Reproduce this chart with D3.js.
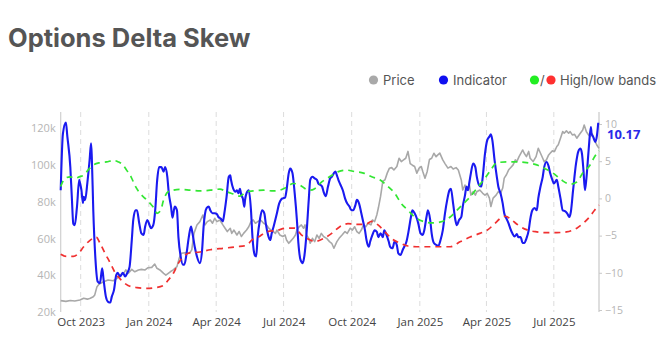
<!DOCTYPE html>
<html><head><meta charset="utf-8">
<script src="https://cdn.jsdelivr.net/npm/d3@7"></script>
<style>
html,body{margin:0;padding:0;background:#fff;}
svg{display:block;}
</style></head>
<body>
<svg id="chart" width="666" height="340"></svg>
<script>
const title = "Options Delta Skew";
const startDate = "2023-09-04";
const endDate = "2025-08-31";
const xTickDates = ["2023-10-01","2024-01-01","2024-04-01","2024-07-01","2024-10-01","2025-01-01","2025-04-01","2025-07-01"];
const leftTicks = [20, 40, 60, 80, 100, 120];
const rightTicks = [-15, -10, -5, 0, 5, 10];
const legendLabels = ["Price", "Indicator", "High/low bands"];
const lastLabel = "10.17";

// days since startDate
const priceDays = [0,7,13,19,26,31,36,40,44,46,49,52,58,64,71,76,80,85,88,91,96,100,105,109,114,118,123,127,130,134,139,142,148,152,157,160,163,170,174,177,180,184,188,192,195,198,202,205,208,211,215,219,222,225,229,231,234,238,241,244,247,251,254,257,260,263,266,270,274,278,281,284,287,290,292,296,300,303,305,308,310,314,317,319,322,325,328,330,332,335,337,340,343,346,349,352,355,359,363,366,369,373,376,380,384,387,391,394,397,400,403,406,409,412,415,419,421,424,427,429,432,435,438,441,444,447,450,454,457,460,463,466,469,472,475,478,481,484,487,489,492,495,498,501,504,507,509,512,516,519,523,527,530,534,537,541,543,546,549,552,554,557,560,562,566,570,573,576,579,581,584,588,591,594,597,599,602,605,607,611,614,616,619,624,626,629,632,634,638,642,645,648,651,653,656,659,661,664,667,670,672,675,678,680,683,686,688,691,694,697,701,705,707,710,713,715,718,721,724,727];
// thousands of USD
const priceValues = [26.2,25.8,26.3,26.0,26.5,27.5,27.0,27.5,28.3,29.3,33.8,35.2,36.5,37.4,37.0,38.3,40.1,41.0,42.9,41.0,43.2,41.9,42.9,43.2,42.9,44.1,44.3,46.1,43.8,42.9,41.0,40.1,41.9,42.9,44.7,49.2,52.0,52.3,52.0,53.8,62.8,67.4,69.2,72.8,67.4,69.2,70.1,68.3,71.0,69.2,70.1,67.4,65.6,63.8,65.6,62.8,64.6,61.9,63.8,61.1,62.8,64.6,66.4,69.2,70.1,68.3,69.2,70.1,68.3,67.4,65.6,64.6,63.8,62.8,64.6,61.9,61.1,61.9,59.2,57.4,58.3,60.1,61.9,64.6,66.4,67.4,65.6,67.4,61.9,60.1,57.4,60.1,58.3,61.9,60.1,62.8,61.1,60.1,58.3,57.4,54.7,58.3,60.1,61.9,63.8,62.8,65.6,64.6,66.4,63.8,62.8,64.6,67.4,66.4,68.3,67.4,70.1,69.2,73.0,76.6,82.9,91.1,92.0,95.6,98.3,98.6,97.3,99.2,103.7,101.9,102.8,103.7,107.4,100.8,99.9,99.2,95.6,98.3,99.2,96.5,92.8,96.5,103.0,103.7,106.4,104.5,105.4,106.5,102.8,100.8,98.3,99.2,97.8,98.6,97.3,91.9,86.4,89.1,86.4,89.1,83.6,85.5,83.6,85.5,86.4,84.6,83.6,84.6,82.0,77.4,82.0,83.6,85.5,84.6,87.5,92.9,94.7,97.4,98.3,100.1,102.8,101.9,104.6,108.2,106.4,104.6,107.4,103.7,101.9,104.6,109.1,106.4,103.7,101.9,102.8,105.5,106.4,107.7,107.4,110.1,111.0,114.6,118.2,117.3,118.6,117.3,118.2,116.4,116.7,114.6,116.9,119.1,121.8,118.1,116.4,115.4,116.9,113.6,110.9,109.1];

const indicatorDays = [0,3,7,9,13,15,17,19,22,25,26,28,30,31,33,36,39,41,42,44,47,50,53,56,58,61,64,67,69,72,75,77,80,84,87,90,93,96,98,101,103,106,109,112,114,117,120,122,125,128,130,133,136,139,141,144,146,149,151,154,157,159,162,165,167,170,173,176,178,181,184,188,191,193,197,200,202,205,208,211,213,216,219,221,224,227,229,230,233,236,238,240,242,244,246,248,249,251,254,257,259,262,264,266,269,272,275,277,280,283,285,288,292,295,298,300,303,305,308,310,313,316,319,321,324,327,329,332,335,337,340,343,346,348,351,353,355,358,361,364,366,369,371,373,375,378,381,384,387,390,392,395,398,400,403,406,408,411,413,416,418,421,424,427,429,432,435,437,440,443,445,448,451,454,456,459,462,464,467,470,473,475,478,481,483,486,489,491,494,496,499,501,504,508,510,513,516,519,522,525,527,530,533,535,538,541,543,546,548,550,552,554,557,560,562,565,568,570,573,576,579,581,583,586,589,591,594,597,599,602,605,607,610,613,616,618,621,624,626,629,632,634,637,640,643,645,648,651,653,656,659,661,664,666,670,672,675,678,681,684,687,689,692,696,699,702,704,706,708,710,713,716,717,719,722,724,726];
const indicatorValues = [1.1,8.7,10.2,8.3,4.2,0.2,-3.4,-3.6,-1.1,2.5,2.1,1.1,-0.6,0.2,-0.2,2.1,5.1,7.4,5.6,-1.6,-8.3,-11.2,-11.4,-9.4,-11.0,-13.2,-13.9,-14.0,-13.2,-12.3,-10.3,-10.0,-10.5,-10.0,-10.5,-10.0,-9.2,-5.6,-2.9,-1.6,-1.6,-3.3,-4.7,-4.9,-3.8,-2.9,-3.6,-4.0,-3.6,-1.1,2.1,4.2,4.2,3.6,4.2,2.9,0.7,-1.1,-2.6,-1.1,-1.6,-5.2,-7.8,-8.9,-8.9,-7.4,-5.2,-3.8,-4.7,-6.5,-7.8,-8.7,-6.9,-3.8,-1.3,-1.1,-1.6,-2.0,-2.0,-2.1,-2.5,-2.7,-3.1,-2.0,0.2,2.9,3.1,2.5,1.3,0.9,1.1,0.7,1.3,0.4,0.0,-1.1,-0.2,0.7,1.1,-1.6,-5.2,-7.6,-7.8,-5.2,-2.9,-1.6,-2.0,-3.4,-4.9,-5.6,-4.7,-3.6,-2.0,-0.7,-0.1,0.0,0.1,1.1,3.4,4.0,3.4,0.7,-2.9,-6.0,-8.3,-8.7,-7.8,-4.7,-0.2,2.5,2.9,2.7,2.5,2.0,1.8,1.6,0.9,0.3,1.6,2.7,2.9,3.4,3.6,3.1,2.5,1.8,1.1,0.0,-0.7,-1.1,-1.5,-1.6,-0.9,-0.2,-0.7,-2.0,-2.9,-4.3,-5.6,-6.5,-5.8,-4.9,-4.3,-4.5,-5.2,-4.7,-5.2,-4.3,-4.9,-5.8,-6.5,-6.7,-5.8,-6.3,-7.4,-7.6,-6.9,-6.5,-5.8,-4.3,-2.5,-1.6,-2.0,-2.7,-3.4,-4.7,-4.9,-4.3,-2.5,-1.6,-2.9,-4.7,-6.0,-6.3,-6.4,-5.6,-4.3,-2.0,-0.2,1.1,1.3,-0.7,-2.9,-3.6,-2.9,-2.5,-1.1,0.4,1.6,1.1,2.2,3.4,4.7,4.2,2.9,1.8,1.6,2.9,6.0,7.8,8.3,8.6,7.8,5.1,2.9,1.6,0.7,-0.7,-2.0,-2.7,-3.4,-4.0,-4.7,-5.1,-4.8,-5.2,-5.2,-6.0,-6.0,-5.4,-4.3,-2.9,-1.6,-1.3,-1.6,0.0,1.6,2.9,4.2,4.9,4.3,3.4,2.5,2.0,2.5,1.6,0.0,-1.6,-1.7,-2.0,-2.5,-1.8,1.1,4.7,6.3,6.7,6.0,3.8,1.1,2.7,6.5,9.6,8.7,8.3,7.6,8.3,10.17];

const highBandDays = [0,6,13,19,25,31,37,44,53,62,71,78,84,89,95,100,107,114,121,126,130,135,139,145,152,161,175,188,202,215,224,233,242,251,260,274,287,296,305,314,323,332,337,343,350,363,375,386,397,409,420,431,442,451,460,469,478,490,501,512,526,535,544,553,564,573,582,589,602,616,629,643,654,665,676,688,697,705,715,721,727];
const highBandValues = [1.6,2.7,2.9,2.7,2.9,3.1,3.8,4.5,4.8,4.9,5.1,4.9,4.5,3.8,2.9,1.8,0.7,0.0,-0.7,-1.3,-2.0,-1.6,-0.2,0.9,1.1,1.2,1.1,1.0,1.1,1.25,0.9,0.6,0.3,0.9,1.0,1.1,1.0,1.1,1.5,2.0,1.8,1.2,1.1,1.3,2.0,2.9,3.6,3.8,3.6,3.4,2.9,2.5,1.6,0.7,-0.7,-1.6,-2.5,-3.1,-3.3,-3.2,-2.5,-1.6,-0.7,0.2,1.6,2.7,4.0,4.8,4.9,4.9,4.8,4.5,4.0,3.4,2.5,1.9,2.2,3.4,4.5,5.6,6.4];

const lowBandDays = [0,8,17,24,31,40,48,53,60,67,73,82,91,103,116,127,139,145,152,159,166,175,188,202,220,238,251,258,267,278,292,305,316,325,337,343,355,366,377,388,400,411,420,429,438,447,458,469,485,503,526,540,553,566,577,586,595,601,609,618,629,643,656,670,683,697,705,715,721,727];
const lowBandValues = [-7.5,-7.8,-7.8,-7.4,-6.5,-5.6,-5.2,-6.0,-7.4,-8.7,-9.9,-11.0,-11.7,-12.0,-12.1,-12.0,-11.7,-11.0,-10.1,-8.7,-7.8,-7.3,-7.2,-6.9,-6.7,-6.5,-6.3,-5.6,-5.2,-4.5,-4.3,-4.0,-4.0,-4.9,-5.6,-5.8,-5.4,-4.7,-3.8,-3.4,-3.5,-3.5,-3.1,-3.6,-4.5,-5.4,-6.0,-6.4,-6.5,-6.5,-6.5,-5.8,-5.2,-4.7,-4.2,-3.4,-2.6,-2.4,-2.9,-3.6,-4.2,-4.5,-4.6,-4.6,-4.5,-4.0,-3.4,-2.4,-1.6,-0.9];

// ---------- drawing ----------
const parse = d3.utcParse("%Y-%m-%d");
const t0 = parse(startDate);
const toDate = d => d3.utcDay.offset(t0, d);
const zip = (days, vals) => days.map((d, i) => ({ date: toDate(d), v: vals[i] }));

const svg = d3.select("#chart");
const plot = { left: 60.7, right: 599, top: 112, bottom: 312 };

const x = d3.scaleUtc().domain([parse(startDate), parse(endDate)]).range([plot.left, plot.right]);
const yL = d3.scaleLinear().domain([20, 120]).range([312, 128.3]);
const yR = d3.scaleLinear().domain([-15, 10]).range([310, 124]);

// title
svg.append("text").attr("x", 8).attr("y", 47)
  .attr("font-family", "Inter, 'Noto Sans', sans-serif").attr("font-weight", 700)
  .attr("font-size", 25.5).attr("fill", "#555").text(title);

// legend
const lg = svg.append("g").attr("font-family", "Inter, 'Noto Sans', sans-serif")
  .attr("font-size", 13).attr("fill", "#555");
lg.append("circle").attr("cx", 373.5).attr("cy", 80).attr("r", 4.6).attr("fill", "#a9a9a9");
lg.append("text").attr("x", 383).attr("y", 84.5).text(legendLabels[0]);
lg.append("circle").attr("cx", 443.5).attr("cy", 80).attr("r", 4.6).attr("fill", "#1010f0");
lg.append("text").attr("x", 453).attr("y", 84.5).text(legendLabels[1]);
lg.append("circle").attr("cx", 534.5).attr("cy", 80).attr("r", 4.6).attr("fill", "#22ee22");
lg.append("text").attr("x", 540).attr("y", 84.5).text("/");
lg.append("circle").attr("cx", 551).attr("cy", 80).attr("r", 4.6).attr("fill", "#ff3030");
lg.append("text").attr("x", 560).attr("y", 84.5).text(legendLabels[2]);

// vertical grid
const tickDates = xTickDates.map(parse);
svg.append("g").selectAll("line").data(tickDates).join("line")
  .attr("x1", d => x(d)).attr("x2", d => x(d))
  .attr("y1", plot.top).attr("y2", plot.bottom)
  .attr("stroke", "#dcdcdc").attr("stroke-width", 1).attr("stroke-dasharray", "5,4");

// x axis labels
const xAxis = d3.axisBottom(x).tickValues(tickDates).tickFormat(d3.utcFormat("%b %Y")).tickSize(0).tickPadding(0);
const gx = svg.append("g").attr("transform", `translate(0,${plot.bottom})`).call(xAxis);
gx.select(".domain").remove();
gx.selectAll("text").attr("font-family", "'Open Sans', sans-serif").attr("font-size", 11.5)
  .attr("fill", "#444").attr("dy", "1.05em").attr("y", 2);

// left axis
const gl = svg.append("g").attr("transform", `translate(${plot.left},0)`)
  .call(d3.axisLeft(yL).tickValues(leftTicks).tickFormat(d => d + "k").tickSize(0).tickPadding(5));
gl.select(".domain").attr("d", `M0,${plot.top}V${plot.bottom}`).attr("stroke", "#d0d0d0").attr("stroke-width", 1.2);
gl.selectAll("text").attr("font-family", "'Open Sans', sans-serif").attr("font-size", 11).attr("fill", "#b5b5b5");

// right axis
const gr = svg.append("g").attr("transform", `translate(${plot.right},0)`)
  .call(d3.axisRight(yR).tickValues(rightTicks).tickFormat(d => d < 0 ? "\u2212" + Math.abs(d) : d).tickSize(3).tickPadding(3));
gr.select(".domain").attr("d", `M0,${plot.top}V${plot.bottom}`).attr("stroke", "#c8c8c8").attr("stroke-width", 1.2);
gr.selectAll(".tick line").attr("stroke", "#c8c8c8");
gr.selectAll("text").attr("font-family", "'Open Sans', sans-serif").attr("font-size", 10.5).attr("fill", "#b5b5b5");

// series
const priceLine = d3.line().x(d => x(d.date)).y(d => yL(d.v));
const rLine = d3.line().x(d => x(d.date)).y(d => yR(d.v)).curve(d3.curveMonotoneX);
const rSmooth = d3.line().x(d => x(d.date)).y(d => yR(d.v)).curve(d3.curveMonotoneX);

svg.append("path").datum(zip(priceDays, priceValues)).attr("d", priceLine)
  .attr("fill", "none").attr("stroke", "#a8a8a8").attr("stroke-width", 1.6).attr("stroke-linejoin", "round");

svg.append("path").datum(zip(indicatorDays, indicatorValues)).attr("d", rLine)
  .attr("fill", "none").attr("stroke", "#1a1af0").attr("stroke-width", 2.1).attr("stroke-linejoin", "round");

svg.append("path").datum(zip(highBandDays, highBandValues)).attr("d", rSmooth)
  .attr("fill", "none").attr("stroke", "#33e633").attr("stroke-width", 1.7).attr("stroke-dasharray", "6,5");

svg.append("path").datum(zip(lowBandDays, lowBandValues)).attr("d", rSmooth)
  .attr("fill", "none").attr("stroke", "#f03030").attr("stroke-width", 1.7).attr("stroke-dasharray", "6,5");

// last value label
const lastV = indicatorValues[indicatorValues.length - 1];
svg.append("text").attr("x", 607).attr("y", yR(lastV) + 16)
  .attr("font-family", "'Open Sans', sans-serif").attr("font-weight", 700)
  .attr("font-size", 13).attr("fill", "#2a2ae8").text(lastLabel);
</script>
</body></html>
